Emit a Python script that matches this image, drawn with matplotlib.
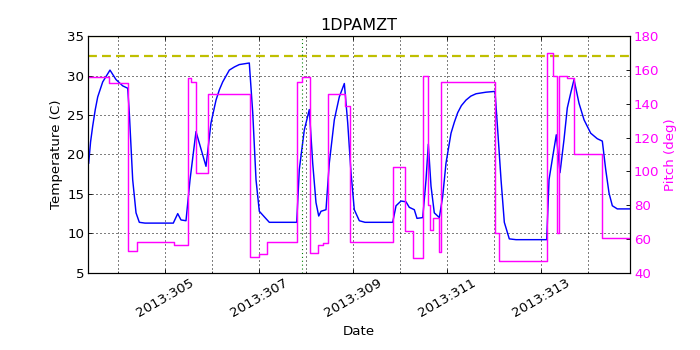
import matplotlib
matplotlib.use("Agg")
import matplotlib.pyplot as plt
from matplotlib.ticker import MultipleLocator, FuncFormatter

# temperature model (day of year 2013, degC)
temp_day = [303.370, 303.410, 303.455, 303.510, 303.562, 303.668, 303.823, 303.951, 304.094, 304.200,
            304.234, 304.306, 304.377, 304.447, 304.568, 305.170, 305.264, 305.334, 305.440, 305.526,
            305.653, 305.866, 305.972, 306.079, 306.150, 306.221, 306.362, 306.470, 306.574, 306.787,
            306.860, 306.930, 307.000, 307.106, 307.213, 307.796, 307.851, 307.957, 308.064, 308.136,
            308.206, 308.264, 308.313, 308.419, 308.489, 308.596, 308.702, 308.809, 308.881, 308.951,
            309.021, 309.128, 309.249, 309.838, 309.909, 310.015, 310.121, 310.191, 310.298, 310.355,
            310.477, 310.547, 310.596, 310.653, 310.723, 310.830, 310.902, 310.972, 311.079, 311.150,
            311.221, 311.300, 311.398, 311.500, 311.611, 311.823, 312.015, 312.072, 312.143, 312.213,
            312.319, 312.462, 313.115, 313.164, 313.234, 313.319, 313.398, 313.483, 313.553, 313.626,
            313.696, 313.802, 313.909, 314.051, 314.191, 314.298, 314.370, 314.441, 314.511, 314.617,
            314.902]
temp = [18.9, 21.6, 23.6, 25.7, 27.3, 29.2, 30.7, 29.5, 28.7, 28.4,
        25.3, 16.8, 12.6, 11.4, 11.3, 11.3, 12.5, 11.7, 11.6, 16.8,
        22.9, 18.5, 24.0, 26.9, 28.2, 29.2, 30.7, 31.1, 31.4, 31.6,
        25.3, 16.8, 12.8, 12.1, 11.4, 11.4, 18.1, 23.1, 25.7, 18.9,
        13.9, 12.2, 12.8, 13.0, 18.9, 24.4, 27.3, 29.0, 24.0, 17.7,
        13.0, 11.6, 11.4, 11.4, 13.5, 14.1, 14.0, 13.3, 13.0, 11.9,
        12.0, 16.8, 21.3, 16.0, 12.6, 12.0, 14.7, 18.9, 22.7, 24.1,
        25.3, 26.2, 26.9, 27.4, 27.7, 27.9, 28.0, 23.1, 16.8, 11.4,
        9.3, 9.2, 9.2, 16.8, 19.4, 22.5, 17.7, 21.9, 25.9, 27.8,
        29.5, 26.5, 24.4, 22.7, 22.0, 21.7, 18.1, 15.1, 13.5, 13.1,
        13.1]

# pitch (step changes: start day, deg)
pitch_day = [303.370, 303.809, 304.213, 304.391, 305.191, 305.477, 305.547, 305.653, 305.902, 306.802,
             307.000, 307.164, 307.802, 307.909, 308.079, 308.255, 308.349, 308.455, 308.823, 308.936,
             309.838, 310.100, 310.277, 310.489, 310.583, 310.632, 310.689, 310.817, 310.866, 312.015,
             312.106, 313.128, 313.255, 313.328, 313.377, 313.553, 313.696, 314.298, 314.902]
pitch = [156.0, 152.5, 52.9, 58.0, 56.2, 155.1, 153.1, 98.9, 145.6, 49.5,
         51.1, 58.4, 152.7, 156.0, 51.5, 56.4, 57.4, 145.6, 138.9, 58.4,
         102.8, 64.5, 48.6, 156.4, 80.1, 65.3, 72.2, 52.5, 152.7, 63.4,
         47.2, 170.2, 156.4, 63.4, 156.6, 155.4, 110.1, 60.4, 60.4]

planning_limit = 32.5
yellow_limit = 35.0
now_day = 307.915

plt.rcParams['font.family'] = 'DejaVu Sans'
plt.rcParams['font.size'] = 12
plt.rcParams['lines.linewidth'] = 1.3
plt.rcParams['xtick.direction'] = 'in'
plt.rcParams['ytick.direction'] = 'in'
plt.rcParams['xtick.major.size'] = 4
plt.rcParams['xtick.minor.size'] = 2
plt.rcParams['ytick.major.size'] = 4
plt.rcParams['ytick.minor.size'] = 2
plt.rcParams['axes.linewidth'] = 1.0

fig = plt.figure(figsize=(8.75, 4.375), dpi=80)
ax = fig.add_axes([0.1257, 0.2206, 0.7743, 0.676])

ax.plot(temp_day, temp, color='blue')
ax.axhline(planning_limit, color=(0.75, 0.75, 0), linestyle='--', linewidth=2, dashes=(4, 2.3))
ax.axhline(yellow_limit, color=(0.75, 0.75, 0), linewidth=2)
ax.axvline(now_day, color='green', linestyle=':', linewidth=1, dashes=(1, 2.5))

ax.set_xlim(303.355, 314.887)
ax.set_ylim(5, 35)
ax.xaxis.set_major_locator(MultipleLocator(2, offset=1))
ax.xaxis.set_minor_locator(MultipleLocator(1))
ax.xaxis.set_major_formatter(FuncFormatter(lambda x, pos: '2013:%03d' % round(x)))
ax.xaxis.set_ticks_position('both')
ax.grid(True, which='both', color='k', linestyle=':', linewidth=0.9, dashes=(1, 3))
for lab in ax.get_xticklabels():
    lab.set_rotation(30)
    lab.set_ha('center')
ax.set_xlabel('Date')
ax.set_ylabel('Temperature (C)')
ax.set_title('1DPAMZT', fontsize=14.4)

ax2 = ax.twinx()
ax2.plot(pitch_day, pitch, color='magenta', drawstyle='steps-post')
ax2.set_ylim(40, 180)
ax2.set_xlim(303.355, 314.887)
ax2.set_ylabel('Pitch (deg)', color='magenta')
ax2.tick_params(axis='y', labelcolor='magenta')

fig.savefig('out.png', dpi=80)
